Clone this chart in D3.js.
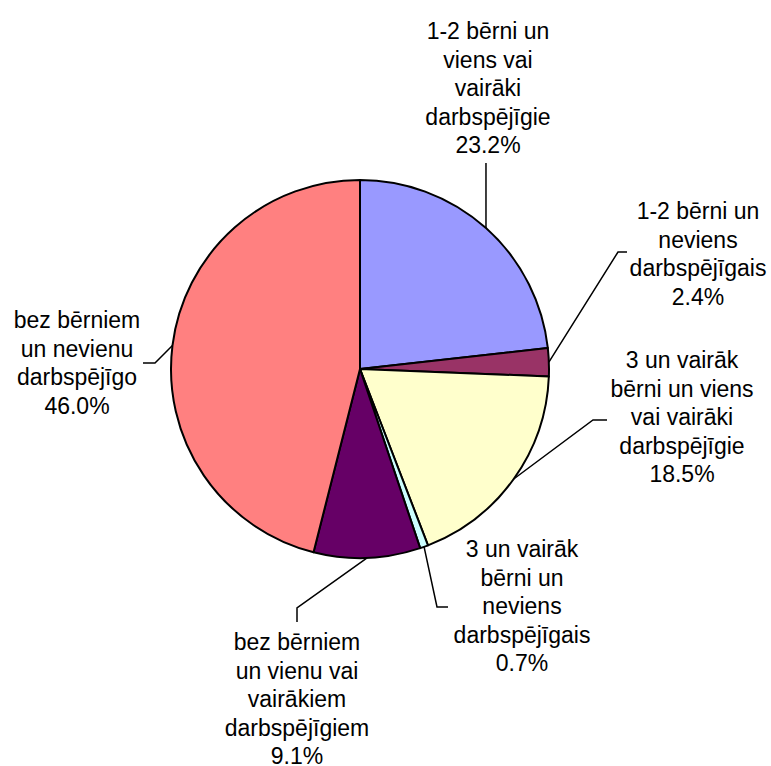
<!DOCTYPE html>
<html>
<head>
<meta charset="utf-8">
<script src="https://cdn.jsdelivr.net/npm/d3@7"></script>
<style>
  body { margin: 0; background: #fff; }
  text { font-family: "Liberation Sans", Arial, sans-serif; font-size: 23px; fill: #000; }
</style>
</head>
<body>
<div id="canvas"></div>
<script>
"use strict"

/* Data: share of households (%) */
let categories = [
    "1-2 bērni un\nviens vai\nvairāki\ndarbspējīgie",
    "1-2 bērni un\nneviens\ndarbspējīgais",
    "3 un vairāk\nbērni un viens\nvai vairāki\ndarbspējīgie",
    "3 un vairāk\nbērni un\nneviens\ndarbspējīgais",
    "bez bērniem\nun vienu vai\nvairākiem\ndarbspējīgiem",
    "bez bērniem\nun nevienu\ndarbspējīgo"
];
let shares = [23.2, 2.4, 18.5, 0.7, 9.1, 46.0];
let sliceColors = ["#9999FF", "#993366", "#FFFFCC", "#CCFFFF", "#660066", "#FF8080"];

/* Drawing config */
let svgWidth = 771;
let svgHeight = 766;
let cx = 360, cy = 369, radius = 189;
let lineStep = 28.5;

/* label anchor (x, first baseline) and leader bend points, same order as data */
let labelLayout = [
    { x: 488, y: 39,  bends: [[null, 163]] },
    { x: 698, y: 219, bends: [[618, 252], [627, 252]] },
    { x: 682, y: 368, bends: [[593, 420], [607, 420]] },
    { x: 522, y: 557, bends: [[437, 607], [448, 607]] },
    { x: 297, y: 650, bends: [[297, 608], [297, 622]] },
    { x: 77,  y: 328, bends: [[155, 363], [143, 363]] }
];

let svg = d3.select("#canvas")
    .append("svg")
    .attr("width", svgWidth)
    .attr("height", svgHeight);

let pie = d3.pie().sort(null).value(d => d);
let arcs = pie(shares);

let arc = d3.arc().innerRadius(0).outerRadius(radius);
let edgeArc = d3.arc().innerRadius(radius).outerRadius(radius);

let g = svg.append("g").attr("transform", `translate(${cx},${cy})`);

g.selectAll("path.slice")
    .data(arcs)
    .join("path")
    .attr("class", "slice")
    .attr("d", arc)
    .attr("fill", (d, i) => sliceColors[i])
    .attr("stroke", "#000")
    .attr("stroke-width", 2)
    .attr("stroke-linejoin", "round");

/* leader lines */
let line = d3.line();
arcs.forEach(function (d, i) {
    let c = edgeArc.centroid(d);
    let start = [cx + c[0], cy + c[1]];
    let pts = [start].concat(labelLayout[i].bends.map(b => [b[0] === null ? start[0] : b[0], b[1]]));
    svg.append("path")
        .attr("d", line(pts))
        .attr("fill", "none")
        .attr("stroke", "#000")
        .attr("stroke-width", 1.5);
});

/* labels */
arcs.forEach(function (d, i) {
    let lay = labelLayout[i];
    let lines = categories[i].split("\n").concat([shares[i].toFixed(1) + "%"]);
    let t = svg.append("text")
        .attr("text-anchor", "middle")
        .attr("x", lay.x)
        .attr("y", lay.y);
    lines.forEach(function (s, k) {
        t.append("tspan")
            .attr("x", lay.x)
            .attr("y", lay.y + k * lineStep)
            .text(s);
    });
});
</script>
</body>
</html>
